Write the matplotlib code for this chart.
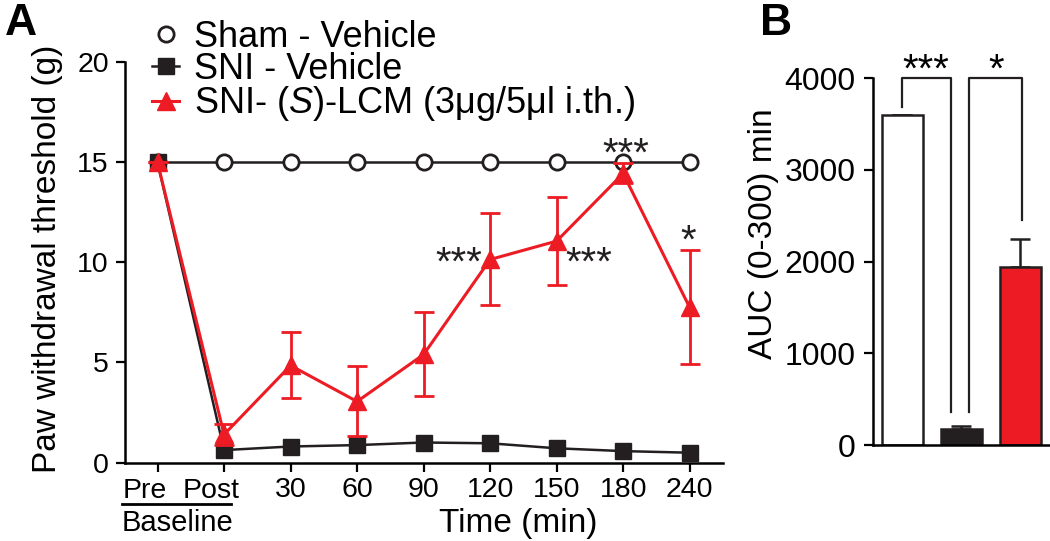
"""Paw withdrawal time course (A) and AUC bars (B)."""

import matplotlib
matplotlib.use("Agg")
import matplotlib.pyplot as plt
import matplotlib.transforms as mtransforms
from matplotlib.lines import Line2D
import numpy as np

RED = "#ED1C24"
BLACK = "#231F20"

# --- panel A data -------------------------------------------------------
time_labels = ["Pre", "Post", "30", "60", "90", "120", "150", "180", "240"]
sham_vehicle = [15, 15, 15, 15, 15, 15, 15, 15, 15]
sni_vehicle = [15, 0.62, 0.8, 0.87, 1.0, 0.96, 0.71, 0.57, 0.49]
sni_lcm = [15, 1.4, 4.85, 3.05, 5.4, 10.15, 11.07, 14.45, 7.75]
sni_lcm_sem = [0, 0.5, 1.65, 1.75, 2.1, 2.3, 2.2, 0.5, 2.85]
# (x position, y baseline, text) of significance marks
stars_a = [(4.53, 9.4, "***"), (6.49, 9.4, "***"), (7.04, 14.85, "***"), (7.98, 10.5, "*")]

# --- panel B data -------------------------------------------------------
auc_groups = ["Sham - Vehicle", "SNI - Vehicle", "SNI- (S)-LCM"]
auc_values = [3600, 180, 1940]
auc_sem = [0, 25, 310]
auc_colors = ["white", BLACK, RED]

plt.rcParams["font.family"] = ["Liberation Sans", "DejaVu Sans"]
plt.rcParams["mathtext.fontset"] = "custom"
plt.rcParams["mathtext.rm"] = "Liberation Sans"
plt.rcParams["mathtext.it"] = "Liberation Sans:italic"
plt.rcParams["axes.linewidth"] = 1.8

fig = plt.figure(figsize=(10.5, 5.41), dpi=100)
ax = fig.add_axes([0.1190, 0.1451, 0.5695, 0.7394])
bx = fig.add_axes([0.8314, 0.1774, 0.1686, 0.6784])

# ---------------- A ----------------
x = np.arange(len(time_labels))
ax.plot(x, sham_vehicle, color=BLACK, lw=1.8, marker="o", ms=11,
        mfc="white", mec=BLACK, mew=2.0, zorder=2)
ax.plot(x, sni_vehicle, color=BLACK, lw=1.8, marker="s", ms=11.5,
        mfc=BLACK, mec=BLACK, zorder=3)
ax.errorbar(x, sni_lcm, yerr=sni_lcm_sem, color=RED, lw=2.2, marker="^",
            ms=13, mfc=RED, mec=RED, elinewidth=2.0, capsize=7.5,
            capthick=2.0, zorder=4)

ax.set_xlim(-0.49, 8.5)
ax.set_ylim(0, 20)
ax.set_yticks([0, 5, 10, 15, 20])
ax.set_xticks(x)
ax.set_xticklabels([""] * 2 + time_labels[2:])
for spine in ("top", "right"):
    ax.spines[spine].set_visible(False)
ax.tick_params(direction="out", length=6.5, width=1.6, labelsize=20.5, pad=4)
ax.tick_params(axis="y", pad=5)

# "Pre" / "Post" sit a little left of their ticks
for i in range(2):
    ax.annotate(time_labels[i], xy=(x[i], 0), xycoords=("data", "axes fraction"),
                xytext=(-9, -10.8), textcoords="offset points",
                ha="center", va="top", fontsize=20.5)
blend = mtransforms.blended_transform_factory(ax.transData, ax.transAxes)
ax.plot([-0.54, 1.11], [-0.103, -0.103], color="black", lw=2.0,
        transform=blend, clip_on=False)
ax.text(0.3, -0.152, "Baseline", transform=blend, ha="center", va="center",
        fontsize=21)

ax.set_xlabel("Time (min)", fontsize=24)
ax.xaxis.set_label_coords(0.657, -0.113)
ax.set_ylabel("Paw withdrawal threshold (g)", fontsize=24, va="center")
ax.yaxis.set_label_coords(-0.130, 0.51)

for sx, sy, s in stars_a:
    ax.text(sx, sy, s, ha="center", va="baseline", fontsize=29, color=BLACK)

handles = [
    Line2D([], [], ls="none", marker="o", ms=11, mfc="white", mec=BLACK, mew=2.0),
    Line2D([], [], color=BLACK, lw=1.8, marker="s", ms=11.5, mfc=BLACK, mec=BLACK),
    Line2D([], [], color=RED, lw=2.2, marker="^", ms=13, mfc=RED, mec=RED),
]
labels = ["Sham - Vehicle", "SNI - Vehicle",
          "SNI- ($\\mathit{S}$)-LCM (3\u03bcg/5\u03bcl i.th.)"]
ax.legend(handles, labels, loc="upper left", bbox_to_anchor=(152 / 1050, 1 - 20 / 541),
          bbox_transform=fig.transFigure, frameon=False, fontsize=26,
          handlelength=0.75, handletextpad=0.4, labelspacing=-0.08,
          borderpad=0, borderaxespad=0)

fig.text(5 / 1050, 1 - 3 / 541, "A", fontsize=32, fontweight="bold",
         ha="left", va="top")

# ---------------- B ----------------
xb = np.arange(len(auc_values))
bx.bar(xb, auc_values, width=0.68, color=auc_colors, edgecolor=BLACK,
       linewidth=1.8, zorder=2)
bx.errorbar(xb, auc_values, yerr=[np.zeros(len(auc_sem)), auc_sem], fmt="none",
            ecolor=BLACK, elinewidth=1.8, capsize=7.5, capthick=1.8, zorder=1)
bx.set_xlim(-0.5, 2.5)
bx.set_ylim(0, 4000)
bx.set_yticks([0, 1000, 2000, 3000, 4000])
bx.set_xticks([])
for spine in ("top", "right"):
    bx.spines[spine].set_visible(False)
bx.tick_params(axis="y", direction="out", length=6.5, width=1.6, labelsize=23, pad=6)
bx.set_ylabel("AUC (0-300) min", fontsize=24, va="center")
bx.yaxis.set_label_coords(-0.62, 0.575)

# significance brackets
bx.plot([0, 0, 0.83, 0.83], [3680, 4000, 4000, 363], color=BLACK, lw=1.6,
        clip_on=False)
bx.plot([1.13, 1.13, 2.02, 2.02], [363, 4000, 4000, 2450], color=BLACK, lw=1.6,
        clip_on=False)
bx.text(0.4, 3960, "***", ha="center", va="baseline", fontsize=29, clip_on=False)
bx.text(1.58, 3960, "*", ha="center", va="baseline", fontsize=29, clip_on=False)

fig.text(760 / 1050, 1 - 3 / 541, "B", fontsize=32, fontweight="bold",
         ha="left", va="top")

fig.savefig("out.png", dpi=100)
plt.close(fig)
